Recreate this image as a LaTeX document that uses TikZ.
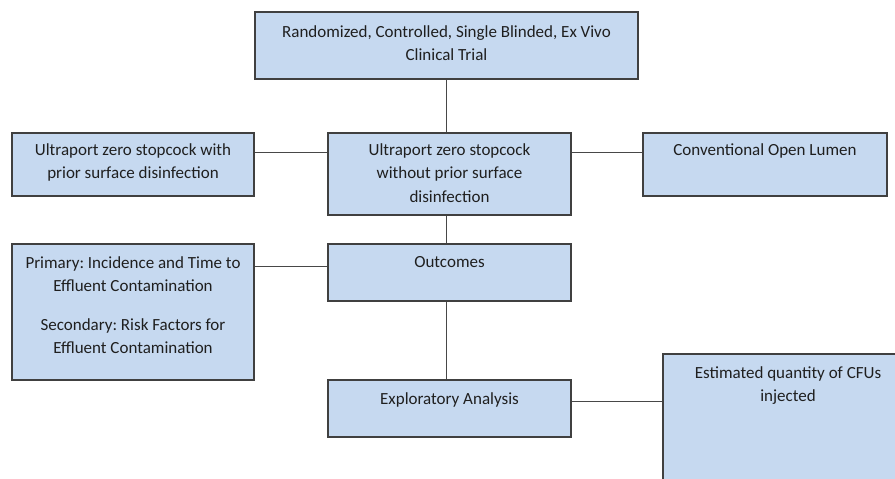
\documentclass[tikz,border=0pt]{standalone}
\usepackage{fontspec}
\setmainfont{Carlito}
\usetikzlibrary{positioning}
\frenchspacing

\begin{document}
\begin{tikzpicture}[x=1pt,y=-1pt]
\colorlet{box edge}{black!75}
\colorlet{box area}{rgb,255:red,198;green,217;blue,240}
\colorlet{link line}{black!72}
\tikzset{
     box/.style={draw=box edge, fill=box area, line width=1.2pt, inner sep=0pt},
     boxtext/.style={anchor=north, align=center, inner sep=0pt, text=black!88,
       font=\fontsize{17}{23.5}\selectfont},
     link/.style={draw=link line, line width=1pt}}

\useasboundingbox (0,0) rectangle (895,479);
\clip (0,0) rectangle (895,479);

% The boxes
\node (trial)    [box, minimum width=383, minimum height=67] at (446.5,45.5) {};
\node (withdis)  [box, minimum width=242, minimum height=63] at (133,164.5) {};
\node (without)  [box, minimum width=243, minimum height=82] at (449.5,174) {};
\node (conv)     [box, minimum width=244, minimum height=63] at (765,164.5) {};
\node (outcomes) [box, minimum width=243, minimum height=57] at (449.5,272.5) {};
\node (prim)     [box, minimum width=242, minimum height=136] at (133,312) {};
\node (explo)    [box, minimum width=243, minimum height=57] at (449.5,408.5) {};
\node (cfu)      [box, minimum width=250, minimum height=160] at (788,434) {};

% The labels
\node (trialtext)    at ([yshift=-14pt]trial.north)    [boxtext] {Randomized, Controlled, Single Blinded, Ex Vivo\\Clinical Trial};
\node (withdistext)  at ([yshift=-11pt]withdis.north)  [boxtext] {Ultraport zero stopcock with\\prior surface disinfection};
\node (withouttext)  at ([yshift=-11pt]without.north)  [boxtext] {Ultraport zero stopcock\\without prior surface\\disinfection};
\node (convtext)     at ([yshift=-11pt]conv.north)     [boxtext] {Conventional Open Lumen};
\node (outcomestext) at ([yshift=-13pt]outcomes.north) [boxtext] {Outcomes};
\node (primtext)     at ([yshift=-13pt]prim.north)     [boxtext] {Primary: Incidence and Time to\\Effluent Contamination\\[15pt]Secondary: Risk Factors for\\Effluent Contamination};
\node (explotext)    at ([yshift=-13pt]explo.north)    [boxtext] {Exploratory Analysis};
\node (cfutext)      at ([yshift=-13pt]cfu.north)      [boxtext] {Estimated quantity of CFUs\\injected};

% The links
\coordinate (exploport) at ([yshift=-22pt]explo.north east);
\draw [link] (trial.south) -- (trial.south |- without.north);
\draw [link] ([yshift=-20pt]withdis.north east) -- ([yshift=-20pt]without.north west);
\draw [link] ([yshift=-20pt]without.north east) -- ([yshift=-20pt]conv.north west);
\draw [link] (trial.south |- without.south) -- (trial.south |- outcomes.north);
\draw [link] ([yshift=-23pt]prim.north east) -- ([yshift=-23pt]outcomes.north west);
\draw [link] (trial.south |- outcomes.south) -- (trial.south |- explo.north);
\draw [link] (exploport) -- (cfu.west |- exploport);
\end{tikzpicture}
\end{document}
